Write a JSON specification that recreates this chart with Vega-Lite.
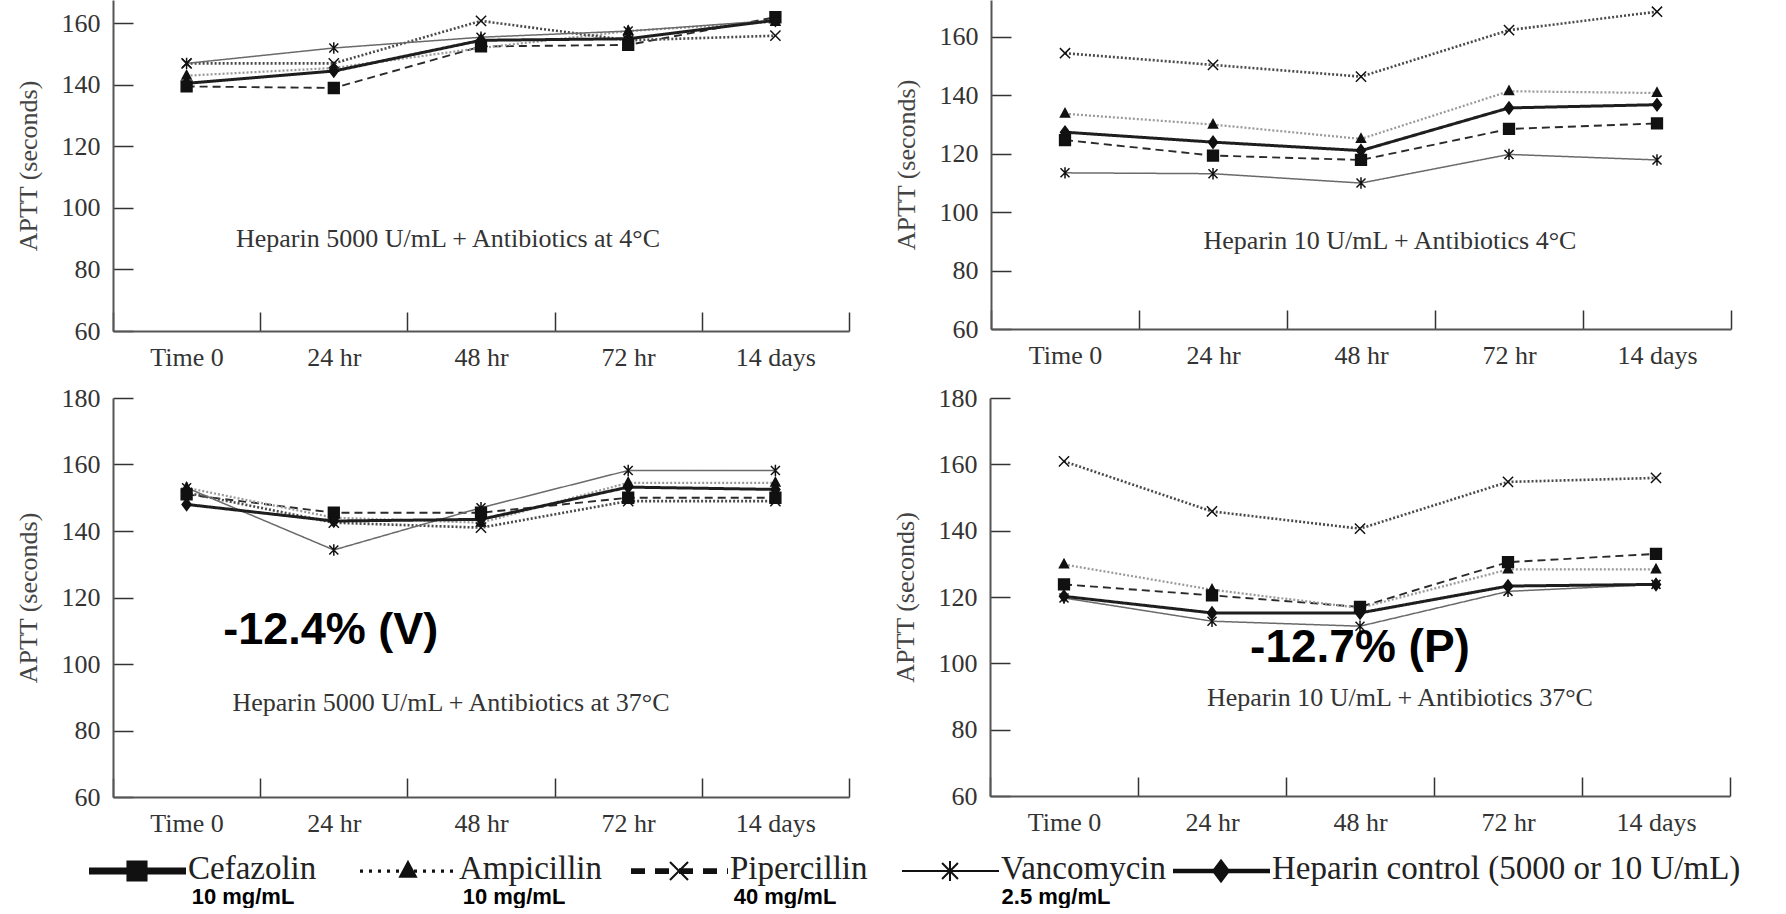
{
  "$schema": "https://vega.github.io/schema/vega-lite/v6.json",
  "background": "white",
  "padding": {"left": 15, "top": 0, "right": 0, "bottom": 0},
  "datasets": {
    "tl": [
      {"t": "Time 0", "s": "Cefazolin", "v": 139.5}, {"t": "24 hr", "s": "Cefazolin", "v": 139}, {"t": "48 hr", "s": "Cefazolin", "v": 152.5}, {"t": "72 hr", "s": "Cefazolin", "v": 153}, {"t": "14 days", "s": "Cefazolin", "v": 162},
      {"t": "Time 0", "s": "Ampicillin", "v": 143}, {"t": "24 hr", "s": "Ampicillin", "v": 145.5}, {"t": "48 hr", "s": "Ampicillin", "v": 152}, {"t": "72 hr", "s": "Ampicillin", "v": 157.5}, {"t": "14 days", "s": "Ampicillin", "v": 160.5},
      {"t": "Time 0", "s": "Pipercillin", "v": 147}, {"t": "24 hr", "s": "Pipercillin", "v": 147}, {"t": "48 hr", "s": "Pipercillin", "v": 160.8}, {"t": "72 hr", "s": "Pipercillin", "v": 154.5}, {"t": "14 days", "s": "Pipercillin", "v": 156},
      {"t": "Time 0", "s": "Vancomycin", "v": 147}, {"t": "24 hr", "s": "Vancomycin", "v": 152}, {"t": "48 hr", "s": "Vancomycin", "v": 155.5}, {"t": "72 hr", "s": "Vancomycin", "v": 157.5}, {"t": "14 days", "s": "Vancomycin", "v": 161},
      {"t": "Time 0", "s": "Heparin control", "v": 140.5}, {"t": "24 hr", "s": "Heparin control", "v": 144.5}, {"t": "48 hr", "s": "Heparin control", "v": 154.5}, {"t": "72 hr", "s": "Heparin control", "v": 155}, {"t": "14 days", "s": "Heparin control", "v": 161}
    ],
    "tr": [
      {"t": "Time 0", "s": "Cefazolin", "v": 124.6}, {"t": "24 hr", "s": "Cefazolin", "v": 119.3}, {"t": "48 hr", "s": "Cefazolin", "v": 117.8}, {"t": "72 hr", "s": "Cefazolin", "v": 128.4}, {"t": "14 days", "s": "Cefazolin", "v": 130.3},
      {"t": "Time 0", "s": "Ampicillin", "v": 133.6}, {"t": "24 hr", "s": "Ampicillin", "v": 129.9}, {"t": "48 hr", "s": "Ampicillin", "v": 125}, {"t": "72 hr", "s": "Ampicillin", "v": 141.3}, {"t": "14 days", "s": "Ampicillin", "v": 140.7},
      {"t": "Time 0", "s": "Pipercillin", "v": 154.3}, {"t": "24 hr", "s": "Pipercillin", "v": 150.3}, {"t": "48 hr", "s": "Pipercillin", "v": 146.3}, {"t": "72 hr", "s": "Pipercillin", "v": 162.2}, {"t": "14 days", "s": "Pipercillin", "v": 168.5},
      {"t": "Time 0", "s": "Vancomycin", "v": 113.4}, {"t": "24 hr", "s": "Vancomycin", "v": 113.1}, {"t": "48 hr", "s": "Vancomycin", "v": 109.9}, {"t": "72 hr", "s": "Vancomycin", "v": 119.7}, {"t": "14 days", "s": "Vancomycin", "v": 117.8},
      {"t": "Time 0", "s": "Heparin control", "v": 127.3}, {"t": "24 hr", "s": "Heparin control", "v": 123.9}, {"t": "48 hr", "s": "Heparin control", "v": 121}, {"t": "72 hr", "s": "Heparin control", "v": 135.6}, {"t": "14 days", "s": "Heparin control", "v": 136.7}
    ],
    "bl": [
      {"t": "Time 0", "s": "Cefazolin", "v": 151}, {"t": "24 hr", "s": "Cefazolin", "v": 145.5}, {"t": "48 hr", "s": "Cefazolin", "v": 145.5}, {"t": "72 hr", "s": "Cefazolin", "v": 150}, {"t": "14 days", "s": "Cefazolin", "v": 150},
      {"t": "Time 0", "s": "Ampicillin", "v": 153}, {"t": "24 hr", "s": "Ampicillin", "v": 144}, {"t": "48 hr", "s": "Ampicillin", "v": 142.5}, {"t": "72 hr", "s": "Ampicillin", "v": 154.5}, {"t": "14 days", "s": "Ampicillin", "v": 154.5},
      {"t": "Time 0", "s": "Pipercillin", "v": 151.5}, {"t": "24 hr", "s": "Pipercillin", "v": 142.5}, {"t": "48 hr", "s": "Pipercillin", "v": 141}, {"t": "72 hr", "s": "Pipercillin", "v": 149}, {"t": "14 days", "s": "Pipercillin", "v": 149},
      {"t": "Time 0", "s": "Vancomycin", "v": 153}, {"t": "24 hr", "s": "Vancomycin", "v": 134.3}, {"t": "48 hr", "s": "Vancomycin", "v": 147}, {"t": "72 hr", "s": "Vancomycin", "v": 158.2}, {"t": "14 days", "s": "Vancomycin", "v": 158.2},
      {"t": "Time 0", "s": "Heparin control", "v": 148}, {"t": "24 hr", "s": "Heparin control", "v": 143}, {"t": "48 hr", "s": "Heparin control", "v": 143.5}, {"t": "72 hr", "s": "Heparin control", "v": 153.2}, {"t": "14 days", "s": "Heparin control", "v": 152.5}
    ],
    "br": [
      {"t": "Time 0", "s": "Cefazolin", "v": 123.8}, {"t": "24 hr", "s": "Cefazolin", "v": 120.5}, {"t": "48 hr", "s": "Cefazolin", "v": 117}, {"t": "72 hr", "s": "Cefazolin", "v": 130.5}, {"t": "14 days", "s": "Cefazolin", "v": 133},
      {"t": "Time 0", "s": "Ampicillin", "v": 129.8}, {"t": "24 hr", "s": "Ampicillin", "v": 122.2}, {"t": "48 hr", "s": "Ampicillin", "v": 116.7}, {"t": "72 hr", "s": "Ampicillin", "v": 128.3}, {"t": "14 days", "s": "Ampicillin", "v": 128.3},
      {"t": "Time 0", "s": "Pipercillin", "v": 160.9}, {"t": "24 hr", "s": "Pipercillin", "v": 145.8}, {"t": "48 hr", "s": "Pipercillin", "v": 140.6}, {"t": "72 hr", "s": "Pipercillin", "v": 154.7}, {"t": "14 days", "s": "Pipercillin", "v": 155.9},
      {"t": "Time 0", "s": "Vancomycin", "v": 119.7}, {"t": "24 hr", "s": "Vancomycin", "v": 112.7}, {"t": "48 hr", "s": "Vancomycin", "v": 111.2}, {"t": "72 hr", "s": "Vancomycin", "v": 121.7}, {"t": "14 days", "s": "Vancomycin", "v": 123.8},
      {"t": "Time 0", "s": "Heparin control", "v": 120.2}, {"t": "24 hr", "s": "Heparin control", "v": 115.2}, {"t": "48 hr", "s": "Heparin control", "v": 115.2}, {"t": "72 hr", "s": "Heparin control", "v": 123.3}, {"t": "14 days", "s": "Heparin control", "v": 123.8}
    ]
  },
  "vconcat": [
    {
      "vconcat": [
        {
          "hconcat": [
            {
              "width": 736, "height": 331,
              "data": {"name": "tl"},
              "encoding": {
                "x": {"field": "t", "type": "nominal", "sort": ["Time 0", "24 hr", "48 hr", "72 hr", "14 days"], "scale": {"type": "band", "paddingInner": 0, "paddingOuter": 0}, "axis": {"title": null}},
                "y": {"field": "v", "type": "quantitative", "scale": {"domain": [60, 167.6], "nice": false, "zero": false}, "axis": {"values": [60, 80, 100, 120, 140, 160], "title": "APTT (seconds)"}}
              },
              "layer": [
                {"mark": {"type": "line"}, "encoding": {
                  "color": {"field": "s", "type": "nominal", "scale": {"domain": ["Cefazolin", "Ampicillin", "Pipercillin", "Vancomycin", "Heparin control"], "range": ["#2a2a2a", "#9a9a9a", "#4a4a4a", "#6a6a6a", "#1e1e1e"]}, "legend": null},
                  "strokeDash": {"field": "s", "type": "nominal", "scale": {"domain": ["Cefazolin", "Ampicillin", "Pipercillin", "Vancomycin", "Heparin control"], "range": [[8, 5], [2, 2], [2, 2], [1, 0], [1, 0]]}, "legend": null},
                  "strokeWidth": {"field": "s", "type": "nominal", "scale": {"type": "point", "domain": ["Vancomycin", "Cefazolin", "Ampicillin", "Pipercillin", "Heparin control"], "range": [1.5, 3]}, "legend": null}
                }},
                {"mark": {"type": "point", "filled": true, "color": "#111", "stroke": "#111", "strokeWidth": 1.5, "size": 144, "opacity": 1}, "encoding": {
                  "shape": {"field": "s", "type": "nominal", "scale": {"domain": ["Cefazolin", "Ampicillin", "Pipercillin", "Vancomycin", "Heparin control"], "range": ["M-0.9,-0.9L0.9,-0.9L0.9,0.9L-0.9,0.9Z", "M0,-0.85L0.75,0.55L-0.75,0.55Z", "M-0.85,-0.85L0.85,0.85M-0.85,0.85L0.85,-0.85", "M-0.75,-0.75L0.75,0.75M-0.75,0.75L0.75,-0.75M0,-0.95L0,0.95", "M0,-1L0.75,0L0,1L-0.75,0Z"]}, "legend": null}
                }},
                {"transform": [{"filter": "datum.s === 'Cefazolin' && datum.t === 'Time 0'"}], "mark": {"type": "text", "font": "Liberation Serif", "fontSize": 26, "color": "#333", "dx": -33, "text": "Heparin 5000 U/mL + Antibiotics at 4°C"}, "encoding": {"x": {"datum": "48 hr"}, "y": {"datum": 89.9}}}
              ]
            },
            {
              "width": 740, "height": 329,
              "data": {"name": "tr"},
              "encoding": {
                "x": {"field": "t", "type": "nominal", "sort": ["Time 0", "24 hr", "48 hr", "72 hr", "14 days"], "scale": {"type": "band", "paddingInner": 0, "paddingOuter": 0}, "axis": {"title": null}},
                "y": {"field": "v", "type": "quantitative", "scale": {"domain": [60, 172.5], "nice": false, "zero": false}, "axis": {"values": [60, 80, 100, 120, 140, 160], "title": "APTT (seconds)"}}
              },
              "layer": [
                {"mark": {"type": "line"}, "encoding": {
                  "color": {"field": "s", "type": "nominal", "scale": {"domain": ["Cefazolin", "Ampicillin", "Pipercillin", "Vancomycin", "Heparin control"], "range": ["#2a2a2a", "#9a9a9a", "#4a4a4a", "#6a6a6a", "#1e1e1e"]}, "legend": null},
                  "strokeDash": {"field": "s", "type": "nominal", "scale": {"domain": ["Cefazolin", "Ampicillin", "Pipercillin", "Vancomycin", "Heparin control"], "range": [[8, 5], [2, 2], [2, 2], [1, 0], [1, 0]]}, "legend": null},
                  "strokeWidth": {"field": "s", "type": "nominal", "scale": {"type": "point", "domain": ["Vancomycin", "Cefazolin", "Ampicillin", "Pipercillin", "Heparin control"], "range": [1.5, 3]}, "legend": null}
                }},
                {"mark": {"type": "point", "filled": true, "color": "#111", "stroke": "#111", "strokeWidth": 1.5, "size": 144, "opacity": 1}, "encoding": {
                  "shape": {"field": "s", "type": "nominal", "scale": {"domain": ["Cefazolin", "Ampicillin", "Pipercillin", "Vancomycin", "Heparin control"], "range": ["M-0.9,-0.9L0.9,-0.9L0.9,0.9L-0.9,0.9Z", "M0,-0.85L0.75,0.55L-0.75,0.55Z", "M-0.85,-0.85L0.85,0.85M-0.85,0.85L0.85,-0.85", "M-0.75,-0.75L0.75,0.75M-0.75,0.75L0.75,-0.75M0,-0.95L0,0.95", "M0,-1L0.75,0L0,1L-0.75,0Z"]}, "legend": null}
                }},
                {"transform": [{"filter": "datum.s === 'Cefazolin' && datum.t === 'Time 0'"}], "mark": {"type": "text", "font": "Liberation Serif", "fontSize": 26, "color": "#333", "dx": 29, "text": "Heparin 10 U/mL + Antibiotics 4°C"}, "encoding": {"x": {"datum": "48 hr"}, "y": {"datum": 90.1}}}
              ]
            }
          ],
          "spacing": 43
        },
        {
          "hconcat": [
            {
              "width": 736, "height": 399,
              "data": {"name": "bl"},
              "encoding": {
                "x": {"field": "t", "type": "nominal", "sort": ["Time 0", "24 hr", "48 hr", "72 hr", "14 days"], "scale": {"type": "band", "paddingInner": 0, "paddingOuter": 0}, "axis": {"title": null}},
                "y": {"field": "v", "type": "quantitative", "scale": {"domain": [60, 180], "nice": false, "zero": false}, "axis": {"values": [60, 80, 100, 120, 140, 160, 180], "title": "APTT (seconds)"}}
              },
              "layer": [
                {"mark": {"type": "line"}, "encoding": {
                  "color": {"field": "s", "type": "nominal", "scale": {"domain": ["Cefazolin", "Ampicillin", "Pipercillin", "Vancomycin", "Heparin control"], "range": ["#2a2a2a", "#9a9a9a", "#4a4a4a", "#6a6a6a", "#1e1e1e"]}, "legend": null},
                  "strokeDash": {"field": "s", "type": "nominal", "scale": {"domain": ["Cefazolin", "Ampicillin", "Pipercillin", "Vancomycin", "Heparin control"], "range": [[8, 5], [2, 2], [2, 2], [1, 0], [1, 0]]}, "legend": null},
                  "strokeWidth": {"field": "s", "type": "nominal", "scale": {"type": "point", "domain": ["Vancomycin", "Cefazolin", "Ampicillin", "Pipercillin", "Heparin control"], "range": [1.5, 3]}, "legend": null}
                }},
                {"mark": {"type": "point", "filled": true, "color": "#111", "stroke": "#111", "strokeWidth": 1.5, "size": 144, "opacity": 1}, "encoding": {
                  "shape": {"field": "s", "type": "nominal", "scale": {"domain": ["Cefazolin", "Ampicillin", "Pipercillin", "Vancomycin", "Heparin control"], "range": ["M-0.9,-0.9L0.9,-0.9L0.9,0.9L-0.9,0.9Z", "M0,-0.85L0.75,0.55L-0.75,0.55Z", "M-0.85,-0.85L0.85,0.85M-0.85,0.85L0.85,-0.85", "M-0.75,-0.75L0.75,0.75M-0.75,0.75L0.75,-0.75M0,-0.95L0,0.95", "M0,-1L0.75,0L0,1L-0.75,0Z"]}, "legend": null}
                }},
                {"transform": [{"filter": "datum.s === 'Cefazolin' && datum.t === 'Time 0'"}], "mark": {"type": "text", "font": "Liberation Serif", "fontSize": 26, "color": "#333", "dx": -30, "text": "Heparin 5000 U/mL + Antibiotics at 37°C"}, "encoding": {"x": {"datum": "48 hr"}, "y": {"datum": 88.3}}},
                {"transform": [{"filter": "datum.s === 'Cefazolin' && datum.t === 'Time 0'"}], "mark": {"type": "text", "font": "Liberation Sans", "fontWeight": "bold", "fontSize": 45, "color": "#000", "dx": -3, "text": "-12.4% (V)"}, "encoding": {"x": {"datum": "24 hr"}, "y": {"datum": 110.2}}}
              ]
            },
            {
              "width": 740, "height": 398,
              "data": {"name": "br"},
              "encoding": {
                "x": {"field": "t", "type": "nominal", "sort": ["Time 0", "24 hr", "48 hr", "72 hr", "14 days"], "scale": {"type": "band", "paddingInner": 0, "paddingOuter": 0}, "axis": {"title": null}},
                "y": {"field": "v", "type": "quantitative", "scale": {"domain": [60, 180], "nice": false, "zero": false}, "axis": {"values": [60, 80, 100, 120, 140, 160, 180], "title": "APTT (seconds)"}}
              },
              "layer": [
                {"mark": {"type": "line"}, "encoding": {
                  "color": {"field": "s", "type": "nominal", "scale": {"domain": ["Cefazolin", "Ampicillin", "Pipercillin", "Vancomycin", "Heparin control"], "range": ["#2a2a2a", "#9a9a9a", "#4a4a4a", "#6a6a6a", "#1e1e1e"]}, "legend": null},
                  "strokeDash": {"field": "s", "type": "nominal", "scale": {"domain": ["Cefazolin", "Ampicillin", "Pipercillin", "Vancomycin", "Heparin control"], "range": [[8, 5], [2, 2], [2, 2], [1, 0], [1, 0]]}, "legend": null},
                  "strokeWidth": {"field": "s", "type": "nominal", "scale": {"type": "point", "domain": ["Vancomycin", "Cefazolin", "Ampicillin", "Pipercillin", "Heparin control"], "range": [1.5, 3]}, "legend": null}
                }},
                {"mark": {"type": "point", "filled": true, "color": "#111", "stroke": "#111", "strokeWidth": 1.5, "size": 144, "opacity": 1}, "encoding": {
                  "shape": {"field": "s", "type": "nominal", "scale": {"domain": ["Cefazolin", "Ampicillin", "Pipercillin", "Vancomycin", "Heparin control"], "range": ["M-0.9,-0.9L0.9,-0.9L0.9,0.9L-0.9,0.9Z", "M0,-0.85L0.75,0.55L-0.75,0.55Z", "M-0.85,-0.85L0.85,0.85M-0.85,0.85L0.85,-0.85", "M-0.75,-0.75L0.75,0.75M-0.75,0.75L0.75,-0.75M0,-0.95L0,0.95", "M0,-1L0.75,0L0,1L-0.75,0Z"]}, "legend": null}
                }},
                {"transform": [{"filter": "datum.s === 'Cefazolin' && datum.t === 'Time 0'"}], "mark": {"type": "text", "font": "Liberation Serif", "fontSize": 26, "color": "#333", "dx": 40, "text": "Heparin 10 U/mL + Antibiotics 37°C"}, "encoding": {"x": {"datum": "48 hr"}, "y": {"datum": 89.5}}},
                {"transform": [{"filter": "datum.s === 'Cefazolin' && datum.t === 'Time 0'"}], "mark": {"type": "text", "font": "Liberation Sans", "fontWeight": "bold", "fontSize": 46, "color": "#000", "text": "-12.7% (P)"}, "encoding": {"x": {"datum": "48 hr"}, "y": {"datum": 104.6}}}
              ]
            }
          ],
          "spacing": 42
        }
      ],
      "spacing": 15
    },
    {
      "width": 1100, "height": 60,
      "data": {"values": [
        {"s": "Cefazolin", "label": "Cefazolin", "sub": "10 mg/mL"},
        {"s": "Ampicillin", "label": "Ampicillin", "sub": "10 mg/mL"},
        {"s": "Pipercillin", "label": "Pipercillin", "sub": "40 mg/mL"},
        {"s": "Vancomycin", "label": "Vancomycin", "sub": "2.5 mg/mL"},
        {"s": "Heparin control", "label": "Heparin control (5000 or 10 U/mL)", "sub": ""}
      ]},
      "encoding": {"x": {"field": "s", "type": "nominal", "sort": ["Cefazolin", "Ampicillin", "Pipercillin", "Vancomycin", "Heparin control"], "scale": {"type": "point", "padding": 0, "range": [-24, 1060]}, "axis": null}},
      "layer": [
        {"mark": {"type": "rule", "x2Offset": 97, "color": "#111"}, "encoding": {
          "x2": {"field": "s"},
          "strokeDash": {"field": "s", "type": "nominal", "scale": {"domain": ["Cefazolin", "Ampicillin", "Pipercillin", "Vancomycin", "Heparin control"], "range": [[1, 0], [3, 6], [14, 10], [1, 0], [1, 0]]}, "legend": null},
          "strokeWidth": {"field": "s", "type": "nominal", "scale": {"type": "point", "domain": ["Vancomycin", "Ampicillin", "Heparin control", "Pipercillin", "Cefazolin"], "range": [2, 7]}, "legend": null}
        }},
        {"mark": {"type": "point", "xOffset": 48, "filled": true, "color": "#111", "stroke": "#111", "strokeWidth": 2, "size": 450, "opacity": 1}, "encoding": {
          "shape": {"field": "s", "type": "nominal", "scale": {"domain": ["Cefazolin", "Ampicillin", "Pipercillin", "Vancomycin", "Heparin control"], "range": ["M-0.9,-0.9L0.9,-0.9L0.9,0.9L-0.9,0.9Z", "M0,-0.85L0.75,0.55L-0.75,0.55Z", "M-0.85,-0.85L0.85,0.85M-0.85,0.85L0.85,-0.85", "M-0.75,-0.75L0.75,0.75M-0.75,0.75L0.75,-0.75M0,-0.95L0,0.95", "M0,-1L0.75,0L0,1L-0.75,0Z"]}, "legend": null}
        }},
        {"mark": {"type": "text", "align": "left", "dx": 99, "dy": -2, "font": "Liberation Serif", "fontSize": 33, "color": "#222"}, "encoding": {"text": {"field": "label"}}},
        {"mark": {"type": "text", "align": "center", "dx": 154, "dy": 26, "font": "Liberation Sans", "fontWeight": "bold", "fontSize": 22, "color": "#000"}, "encoding": {"text": {"field": "sub"}}}
      ]
    }
  ],
  "spacing": 5,
  "resolve": {"scale": {"shape": "independent", "strokeDash": "independent", "strokeWidth": "independent", "color": "independent", "size": "independent"}},
  "config": {
    "view": {"stroke": null},
    "axisX": {"title": null, "labelAngle": 0, "domainColor": "#555", "domainWidth": 2, "tickColor": "#333", "tickWidth": 1.5, "tickSize": -19, "tickBand": "extent", "labelPadding": 32, "labelFont": "Liberation Serif", "labelFontSize": 26, "labelColor": "#333", "grid": false},
    "axisY": {"domainColor": "#555", "domainWidth": 2, "ticks": false, "labelPadding": 13, "labelFont": "Liberation Serif", "labelFontSize": 26, "labelColor": "#333", "grid": true, "gridColor": "#333", "gridWidth": 1.5, "gridOpacity": 1, "gridDash": [20, 4000], "titleFont": "Liberation Serif", "titleFontSize": 26, "titleFontWeight": "normal", "titleColor": "#444", "titlePadding": 20}
  }
}
